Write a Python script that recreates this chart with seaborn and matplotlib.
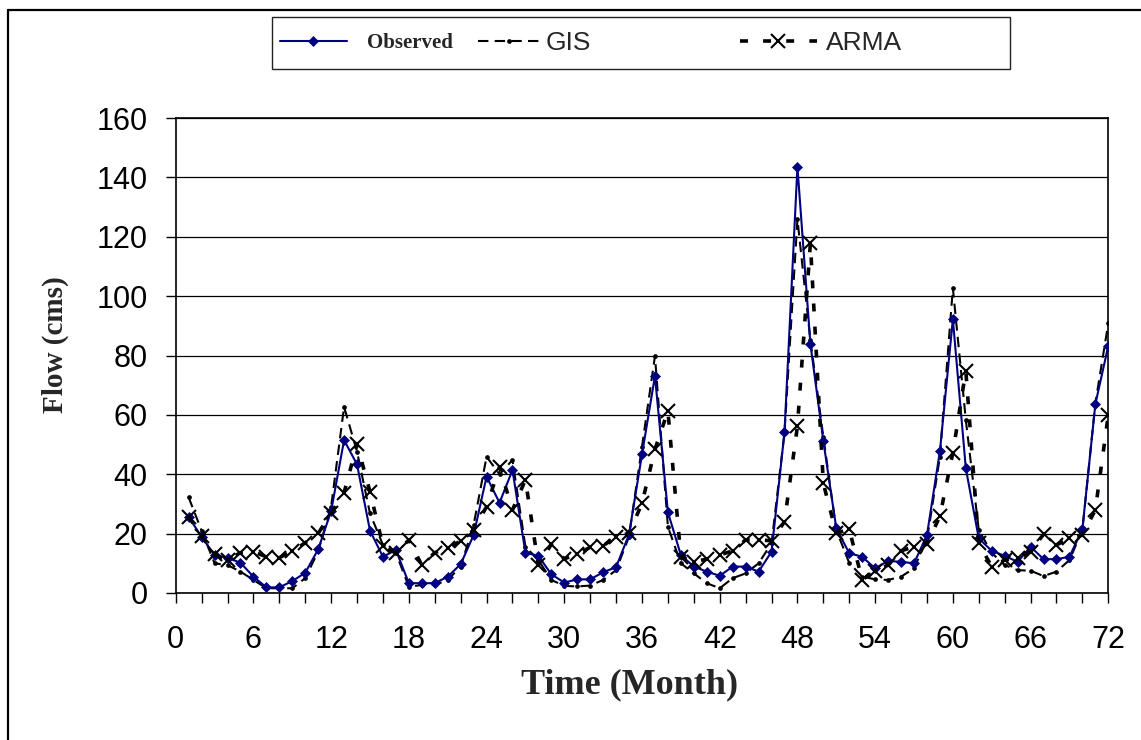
import matplotlib
matplotlib.use("Agg")
import matplotlib.pyplot as plt
import seaborn as sns
import pandas as pd
from matplotlib.patches import Rectangle
from matplotlib.lines import Line2D

# ---------------- data ----------------
months = list(range(1, 73))
observed = [25.6, 18.9, 12.8, 11.8, 10.2, 5.5, 1.9, 1.9, 4.0, 6.8,
            14.7, 27.6, 51.5, 43.3, 21.0, 12.2, 14.5, 3.3, 3.3, 3.3,
            5.5, 9.7, 19.5, 39.2, 30.4, 41.4, 13.6, 12.5, 6.3, 3.5,
            4.6, 4.6, 7.0, 8.7, 19.8, 46.7, 73.1, 27.2, 12.8, 8.9,
            7.2, 5.8, 8.9, 8.9, 7.2, 13.9, 54.1, 143.6, 83.9, 51.2,
            21.8, 13.4, 12.2, 8.3, 10.8, 10.5, 10.0, 19.5, 47.8, 92.2,
            42.0, 18.4, 14.2, 12.5, 10.5, 15.6, 11.4, 11.4, 12.2, 21.5,
            63.6, 83.3]
gis = [32.2, 21.0, 10.0, 9.4, 7.2, 4.4, 1.6, 1.6, 1.6, 5.0,
       14.0, 29.1, 62.7, 47.6, 26.8, 16.2, 13.5, 2.1, 2.7, 2.7,
       4.4, 8.9, 22.9, 45.9, 40.0, 44.8, 15.6, 11.1, 4.4, 2.4,
       2.2, 2.5, 4.4, 7.7, 19.0, 49.3, 79.8, 22.3, 10.0, 6.6,
       3.3, 1.6, 5.0, 6.6, 10.0, 16.7, 53.9, 125.9, 85.2, 52.6,
       21.2, 10.1, 5.5, 4.6, 4.4, 5.5, 8.3, 17.9, 45.9, 102.7,
       58.3, 21.2, 13.5, 9.4, 7.7, 7.5, 5.7, 7.2, 11.1, 21.2,
       63.9, 90.9]
arma = [25.7, 19.2, 13.0, 11.1, 13.6, 13.9, 12.2, 11.9, 14.1, 16.9,
        20.1, 26.8, 33.8, 50.1, 34.1, 15.9, 13.4, 17.9, 9.4, 13.6,
        15.1, 17.5, 21.2, 29.1, 42.5, 28.0, 38.1, 9.4, 16.4, 11.5,
        13.1, 15.4, 15.9, 19.0, 20.1, 30.2, 48.4, 61.3, 12.2, 10.5,
        11.4, 12.8, 14.2, 17.9, 17.9, 17.6, 24.0, 56.2, 117.8, 36.9,
        20.1, 21.5, 4.4, 7.5, 9.4, 14.2, 15.6, 16.4, 25.9, 47.3,
        74.8, 16.7, 8.9, 11.1, 11.7, 13.9, 19.8, 16.2, 18.4, 19.5,
        28.0, 60.0]
series_names = ["Observed", "GIS", "ARMA"]
x_tick_values = list(range(0, 73, 2))
x_tick_labels = [str(v) if v % 6 == 0 else "" for v in x_tick_values]
y_tick_values = list(range(0, 161, 20))

df = pd.DataFrame({"Month": months, "Observed": observed, "GIS": gis, "ARMA": arma})

# ---------------- style ----------------
sns.set_style("white")
plt.rcParams["font.family"] = ["Liberation Sans", "DejaVu Sans"]

W, H = 1141, 740
fig = plt.figure(figsize=(W / 100, H / 100), dpi=100)
ax_l, ax_r, ax_t, ax_b = 175.7, 1108.3, 118, 593
ax = fig.add_axes([ax_l / W, 1 - ax_b / H, (ax_r - ax_l) / W, (ax_b - ax_t) / H])

sns.lineplot(data=df, x="Month", y="GIS", ax=ax, color="black", lw=1.5,
             linestyle=(0, (5, 3)), marker="o", markersize=2.8,
             markeredgecolor="black", markeredgewidth=0.5, legend=False, zorder=3)
sns.lineplot(data=df, x="Month", y="Observed", ax=ax, color="#000080", lw=1.5,
             marker="D", markersize=5.5, markeredgecolor="#000080",
             markeredgewidth=0.5, legend=False, zorder=4)
sns.lineplot(data=df, x="Month", y="ARMA", ax=ax, color="black", lw=2.6,
             linestyle=(0, (2.2, 4.2)), marker="x", markersize=10,
             markeredgecolor="black", markeredgewidth=1.5, legend=False, zorder=5)

h_gis, h_obs, h_arma = ax.lines[0], ax.lines[1], ax.lines[2]

ax.set_xlim(0, 72)
ax.set_ylim(0, 160)
ax.set_xticks(x_tick_values)
ax.set_xticklabels(x_tick_labels)
ax.set_yticks(y_tick_values)
ax.yaxis.grid(True, color="black", lw=0.9)
ax.xaxis.grid(False)
for s in ax.spines.values():
    s.set_visible(True)
    s.set_color("black")
    s.set_linewidth(1.2)
ax.tick_params(axis="both", which="major", bottom=True, left=True, direction="out",
               length=7.2, width=1, color="black", labelsize=22, labelcolor="black")
ax.tick_params(axis="y", pad=13)
ax.tick_params(axis="x", pad=16)

serif = ["Liberation Serif", "DejaVu Serif"]
ax.set_xlabel("Time (Month)", fontfamily=serif, fontweight="bold", fontsize=26, va="center")
ax.xaxis.set_label_coords((630 - ax_l) / (ax_r - ax_l), -(685 - ax_b) / (ax_b - ax_t))
ax.set_ylabel("Flow (cms)", fontfamily=serif, fontweight="bold", fontsize=21, va="center")
ax.yaxis.set_label_coords((55 - ax_l) / (ax_r - ax_l), (ax_b - 345) / (ax_b - ax_t))

# ---------------- legend ----------------
leg_y = 1 - 43 / H
common = dict(loc="center left", frameon=False, borderpad=0, borderaxespad=0, numpoints=1)
fig.legend([h_obs], [series_names[0]], bbox_to_anchor=(280 / W, leg_y),
           handlelength=3.2, handletextpad=1.0,
           prop={"family": serif, "weight": "bold", "size": 15}, **common)
fig.legend([h_gis], [series_names[1]], bbox_to_anchor=(478 / W, leg_y),
           handlelength=2.35, handletextpad=0.2,
           prop={"family": ["Liberation Sans"], "size": 19}, **common)
fig.legend([h_arma], [series_names[2]], bbox_to_anchor=(740 / W, leg_y),
           handlelength=2.9, handletextpad=0.35,
           prop={"family": ["Liberation Sans"], "size": 19}, **common)
fig.add_artist(Rectangle((272 / W, 1 - 69 / H), (1010 - 272) / W, 52 / H,
                         transform=fig.transFigure, fill=False,
                         edgecolor="#222222", lw=1.0))

# outer frame (top and left edges visible)
fig.add_artist(Line2D([8 / W, 8 / W], [0, 1 - 10 / H], transform=fig.transFigure,
                      color="black", lw=1.6))
fig.add_artist(Line2D([8 / W, 1], [1 - 10 / H, 1 - 10 / H], transform=fig.transFigure,
                      color="black", lw=1.6))

fig.savefig("out.png", dpi=100, facecolor="white")
